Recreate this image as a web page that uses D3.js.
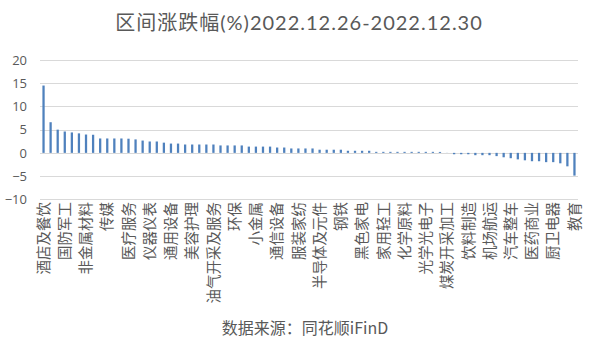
<!DOCTYPE html>
<html>
<head>
<meta charset="utf-8">
<script src="https://cdn.jsdelivr.net/npm/d3@7"></script>
<style>
  body { margin: 0; background: #fff; }
  #chart { width: 594px; height: 353px; }
  text { fill: #595959; }
</style>
</head>
<body>
<div id="chart"></div>
<script>
// industries, sorted by weekly change (only every third name is shown on the axis)
const industries = [
  "酒店及餐饮", "景点及旅游", "军工电子", "国防军工", "影视院线", "文化传媒",
  "非金属材料", "零售", "游戏", "传媒", "医疗器械", "计算机设备",
  "医疗服务", "专用设备", "自动化设备", "仪器仪表", "贸易", "油服工程",
  "通用设备", "能源金属", "工业金属", "美容护理", "通信服务", "其他电子",
  "油气开采及服务", "纺织制造", "包装印刷", "环保", "元件", "消费电子",
  "小金属", "造纸", "白色家电", "通信设备", "小家电", "塑料制品",
  "服装家纺", "化学制品", "农化制品", "半导体及元件", "电子化学品", "光伏设备",
  "钢铁", "风电设备", "焦炭加工", "黑色家电", "白酒", "食品加工制造",
  "家用轻工", "港口航运", "公路铁路运输", "化学原料", "物流", "汽车零部件",
  "光学光电子", "汽车服务", "化学制药", "煤炭开采加工", "中药", "生物制品",
  "饮料制造", "房地产开发", "建筑装饰", "机场航运", "建筑材料", "银行",
  "汽车整车", "证券", "保险", "医药商业", "电力", "燃气",
  "厨卫电器", "电池", "电网设备", "教育"
];

// 区间涨跌幅 (%)
const changes = [
  14.5, 6.6, 5.0, 4.6, 4.4, 4.2,
  3.95, 3.9, 3.1, 3.1, 3.1, 3.1,
  3.05, 2.9, 2.65, 2.45, 2.45, 2.2,
  2.0, 2.0, 1.8, 1.8, 1.8, 1.8,
  1.8, 1.6, 1.6, 1.6, 1.6, 1.35,
  1.35, 1.35, 1.35, 1.15, 1.15, 0.95,
  0.95, 0.95, 0.95, 0.68, 0.68, 0.68,
  0.68, 0.45, 0.45, 0.45, 0.45, 0.22,
  0.22, 0.22, 0.22, 0.22, 0.22, 0.22,
  0.22, 0.22, 0.2, 0.02, -0.3, -0.3,
  -0.3, -0.5, -0.5, -0.5, -0.7, -0.95,
  -1.15, -1.4, -1.6, -1.8, -1.8, -2.0,
  -2.0, -2.25, -2.9, -4.9
];

const yTicks = [-10, -5, 0, 5, 10, 15, 20];

const data = industries.map((name, i) => ({ name, value: changes[i] }));

const width = 594, height = 353;
const plot = { left: 40, right: 578, top: 60, bottom: 199.3 };

const svg = d3.select("#chart")
  .append("svg")
  .attr("width", width)
  .attr("height", height);

// escalas
const x = d3.scaleBand()
  .domain(industries)
  .range([plot.left, plot.right])
  .paddingInner(0.68)
  .paddingOuter(0.34);

const y = d3.scaleLinear()
  .domain([-10, 20])
  .range([plot.bottom, plot.top]);

// lineas de la rejilla
svg.append("g")
  .selectAll("line")
  .data(yTicks)
  .join("line")
  .attr("x1", plot.left)
  .attr("x2", plot.right)
  .attr("y1", (d) => Math.round(y(d)) + 0.5)
  .attr("y2", (d) => Math.round(y(d)) + 0.5)
  .attr("stroke", "#d9d9d9")
  .attr("stroke-width", 1);

// eje y
const yAxis = svg.append("g")
  .attr("transform", `translate(${plot.left - 13}, 0)`)
  .call(d3.axisLeft(y).tickValues(yTicks).tickSize(0).tickPadding(0));
yAxis.select(".domain").remove();
yAxis.selectAll("text")
  .attr("font-family", "'Open Sans', sans-serif")
  .attr("font-size", 13)
  .style("fill", "#595959");

// barras
svg.append("g")
  .selectAll("rect")
  .data(data)
  .join("rect")
  .attr("x", (d) => x(d.name))
  .attr("y", (d) => y(Math.max(0, d.value)))
  .attr("width", x.bandwidth())
  .attr("height", (d) => Math.abs(y(d.value) - y(0)))
  .attr("fill", "#4f81bd");

// etiquetas de categoria (una de cada tres)
svg.append("g")
  .selectAll("text")
  .data(industries.filter((d, i) => i % 3 === 0))
  .join("text")
  .attr("transform", (d) => `translate(${x(d) + x.bandwidth() / 2}, 202) rotate(-90)`)
  .attr("text-anchor", "end")
  .attr("dy", "0.36em")
  .attr("font-family", "'Noto Sans CJK SC', sans-serif")
  .attr("font-size", 14.5)
  .text((d) => d);

// titulo
svg.append("text")
  .attr("x", 299)
  .attr("y", 30)
  .attr("text-anchor", "middle")
  .attr("font-family", "Lato, 'Noto Sans CJK SC', sans-serif")
  .attr("font-size", 20)
  .attr("letter-spacing", 1)
  .text("区间涨跌幅(%)2022.12.26-2022.12.30");

// fuente
svg.append("text")
  .attr("x", 305)
  .attr("y", 334)
  .attr("text-anchor", "middle")
  .attr("font-family", "'Noto Sans CJK SC', sans-serif")
  .attr("font-size", 16)
  .text("数据来源：同花顺iFinD");
</script>
</body>
</html>
